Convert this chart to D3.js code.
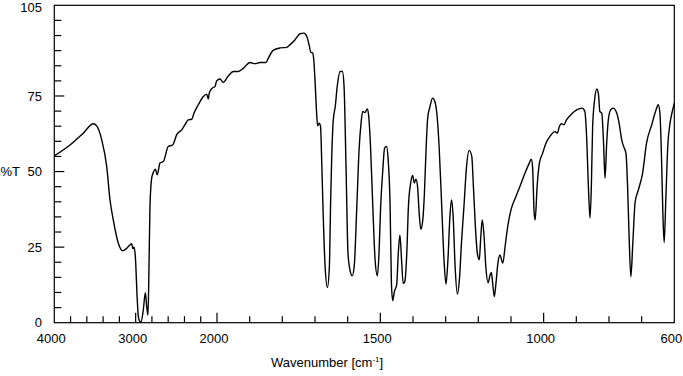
<!DOCTYPE html>
<html>
<head>
<meta charset="utf-8">
<script src="https://cdn.jsdelivr.net/npm/d3@7"></script>
<style>
  body { margin: 0; background: #fff; }
  text { font-family: Arial, "Liberation Sans", sans-serif; font-size: 13px; fill: #000; }
</style>
</head>
<body>
<div id="chart"></div>
<script>
// spectrum (wavenumber in cm-1, transmittance in %)
var wavenumbers = [4000, 3807, 3644, 3521, 3479, 3417, 3356, 3315, 3275, 3213, 3159, 3110, 3049, 3035, 3020, 3004,
  2980, 2967, 2950, 2934, 2906, 2881, 2864, 2848, 2836, 2824, 2803, 2783, 2758, 2734, 2701, 2660, 2599, 2545,
  2495, 2434, 2393, 2353, 2311, 2283, 2230, 2168, 2127, 2107, 2095, 2058, 2025, 2004, 1991, 1981, 1965, 1950,
  1935, 1919, 1899, 1884, 1868, 1850, 1843, 1828, 1807, 1787, 1777, 1761, 1746, 1734, 1725, 1717, 1713, 1707,
  1703, 1699, 1695, 1692, 1687, 1683, 1679, 1675, 1669, 1662, 1656, 1652, 1649, 1644, 1638, 1632, 1623, 1616,
  1611, 1605, 1599, 1593, 1586, 1580, 1572, 1565, 1559, 1554, 1547, 1540, 1536, 1530, 1523, 1516, 1509, 1504,
  1499, 1493, 1487, 1481, 1476, 1470, 1466, 1462, 1457, 1450, 1445, 1440, 1435, 1430, 1425, 1419, 1414, 1407,
  1401, 1396, 1391, 1386, 1381, 1376, 1370, 1365, 1360, 1355, 1348, 1340, 1333, 1327, 1320, 1312, 1305, 1299,
  1293, 1287, 1282, 1277, 1271, 1264, 1258, 1251, 1244, 1236, 1228, 1220, 1215, 1209, 1203, 1197, 1193, 1188,
  1183, 1177, 1170, 1164, 1160, 1156, 1151, 1146, 1140, 1134, 1125, 1118, 1110, 1100, 1085, 1073, 1057, 1044,
  1038, 1034, 1029, 1026, 1020, 1013, 1003, 993, 981, 965, 958, 952, 945, 938, 930, 914, 899, 882, 874, 868,
  863, 858, 854, 850, 844, 837, 832, 828, 822, 817, 812, 807, 802, 795, 787, 776, 769, 761, 753, 748, 743, 738,
  733, 727, 720, 710, 697, 685, 669, 656, 649, 644, 639, 635, 631, 626, 620, 613, 605, 600];

var transmittance = [55.2, 58.8, 62.7, 65.8, 65.1, 60.5, 51.7, 40.6, 34.0, 26.3, 23.8, 24.6, 26.1, 24.5, 25.0, 22.0,
  7.5, 2.0, 0.5, 0.3, 4.2, 9.9, 5.3, 2.5, 18.5, 38.4, 47.8, 49.7, 50.8, 48.9, 52.8, 53.3, 58.3, 58.8,
  62.2, 63.8, 65.5, 67.1, 67.3, 69.3, 72.1, 74.8, 75.6, 74.0, 76.0, 77.6, 78.1, 80.0, 80.6, 79.5, 81.7, 83.1,
  83.1, 84.2, 86.1, 85.7, 86.1, 86.1, 87.5, 90.1, 90.9, 91.1, 91.9, 93.6, 95.6, 95.8, 94.7, 91.4, 89.5, 89.2,
  85.9, 78.1, 69.3, 65.1, 66.0, 64.9, 51.7, 36.2, 18.5, 11.7, 18.5, 40.6, 53.9, 67.1, 71.5, 78.1, 83.1, 83.1,
  78.1, 51.7, 23.0, 17.5, 15.5, 18.5, 38.4, 57.2, 66.0, 69.9, 69.5, 70.7, 68.8, 58.3, 38.4, 20.8, 15.5, 23.0,
  38.4, 49.5, 57.7, 58.3, 53.9, 38.4, 13.0, 7.3, 10.3, 12.5, 23.0, 29.0, 20.8, 13.0, 13.6, 23.0, 38.4, 46.2,
  48.7, 46.2, 47.5, 45.0, 36.2, 30.9, 34.0, 42.8, 57.2, 67.7, 71.5, 74.3, 73.2, 69.3, 58.3, 38.4, 20.8, 12.8,
  20.8, 35.1, 40.6, 35.1, 18.5, 9.5, 14.1, 27.4, 38.4, 51.7, 57.0, 55.0, 45.0, 31.8, 23.0, 20.8, 27.4, 34.0,
  29.6, 18.5, 13.2, 15.8, 16.6, 13.0, 8.6, 13.0, 19.7, 22.4, 19.7, 25.2, 31.8, 37.3, 41.7, 45.0, 49.5, 52.8,
  54.1, 51.7, 36.2, 34.0, 45.0, 52.8, 56.1, 59.4, 61.6, 63.2, 62.7, 64.9, 65.8, 65.5, 67.1, 69.1, 70.4, 71.0, 69.9, 60.5,
  45.0, 34.6, 45.0, 64.9, 73.7, 77.3, 75.4, 69.9, 69.3, 60.5, 47.8, 59.4, 67.1, 70.4, 71.0, 69.3, 66.0, 60.5, 57.7, 56.1, 45.0, 27.4,
  15.2, 26.3, 39.8, 43.9, 49.5, 59.4, 65.5, 70.4, 72.1, 69.3, 53.9, 36.2, 26.5, 40.6, 58.3, 66.0, 70.4, 72.6];

// axis ticks
var xMajorTicks = [4000, 3000, 2000, 1500, 1000, 600];
var xMinorTicks = [3800, 3600, 3400, 3200, 2800, 2600, 2400, 2200, 1900, 1800, 1700, 1600,
  1400, 1300, 1200, 1100, 900, 800, 700];
var yLabelTicks = [0, 25, 50, 75, 105];
var yMajorTicks = [25, 50, 75];
var yMinorTicks = [5, 10, 15, 20, 30, 35, 40, 45, 55, 60, 65, 70, 80, 85, 90, 95, 100];

var data = wavenumbers.map(function (w, i) {
  return { w: w, t: transmittance[i] };
});

var width = 683, height = 376;
var plotLeft = 54.3, plotRight = 674.3, plotTop = 5.3, plotBottom = 322.7;

var svg = d3.select('#chart')
  .append('svg')
  .attr('width', width)
  .attr('height', height);

// the x axis is split: 4000-2000 compressed, 2000-600 expanded
var x = d3.scaleLinear()
  .domain([4000, 2000, 600])
  .range([plotLeft, 217, plotRight]);

var y = d3.scaleLinear()
  .domain([0, 105])
  .range([plotBottom, plotTop]);

// frame
svg.append('rect')
  .attr('x', plotLeft)
  .attr('y', plotTop)
  .attr('width', plotRight - plotLeft)
  .attr('height', plotBottom - plotTop)
  .attr('fill', 'none')
  .attr('stroke', '#000')
  .attr('stroke-width', 1.2);

// x ticks point up into the plot
svg.append('g').selectAll('line')
  .data(xMinorTicks)
  .enter()
  .append('line')
  .attr('x1', function (d) { return x(d); })
  .attr('x2', function (d) { return x(d); })
  .attr('y1', plotBottom)
  .attr('y2', plotBottom - 6.5)
  .attr('stroke', '#000')
  .attr('stroke-width', 1.2);

svg.append('g').selectAll('line')
  .data(xMajorTicks.slice(1, -1))
  .enter()
  .append('line')
  .attr('x1', function (d) { return x(d); })
  .attr('x2', function (d) { return x(d); })
  .attr('y1', plotBottom)
  .attr('y2', plotBottom - 10)
  .attr('stroke', '#000')
  .attr('stroke-width', 1.2);

svg.append('g').selectAll('text')
  .data(xMajorTicks)
  .enter()
  .append('text')
  .attr('x', function (d) { return x(d) - 3; })
  .attr('y', 343)
  .attr('text-anchor', 'middle')
  .text(function (d) { return d; });

// y ticks point right into the plot
svg.append('g').selectAll('line')
  .data(yMinorTicks)
  .enter()
  .append('line')
  .attr('x1', plotLeft)
  .attr('x2', plotLeft + 7)
  .attr('y1', function (d) { return y(d); })
  .attr('y2', function (d) { return y(d); })
  .attr('stroke', '#000')
  .attr('stroke-width', 1.2);

svg.append('g').selectAll('line')
  .data(yMajorTicks)
  .enter()
  .append('line')
  .attr('x1', plotLeft)
  .attr('x2', plotLeft + 10)
  .attr('y1', function (d) { return y(d); })
  .attr('y2', function (d) { return y(d); })
  .attr('stroke', '#000')
  .attr('stroke-width', 1.2);

svg.append('g').selectAll('text')
  .data(yLabelTicks)
  .enter()
  .append('text')
  .attr('x', 42)
  .attr('y', function (d) { return y(d); })
  .attr('dy', function (d) { return d === 105 ? '.5em' : '.36em'; })
  .attr('text-anchor', 'end')
  .text(function (d) { return d; });

// axis labels
svg.append('text')
  .attr('x', 0.5)
  .attr('y', y(50))
  .attr('dy', '.36em')
  .text('%T');

var xlab = svg.append('text')
  .attr('x', 271)
  .attr('y', 367);
xlab.append('tspan').text('Wavenumber [cm');
xlab.append('tspan')
  .attr('dy', -5)
  .style('font-size', '8px')
  .text('-1');
xlab.append('tspan')
  .attr('dy', 5)
  .text(']');

// spectrum
var line = d3.line()
  .x(function (d) { return x(d.w); })
  .y(function (d) { return y(d.t); })
  .curve(d3.curveMonotoneX);

svg.append('path')
  .datum(data)
  .attr('d', line)
  .attr('fill', 'none')
  .attr('stroke', '#000')
  .attr('stroke-width', 1.4)
  .attr('stroke-linejoin', 'round');
</script>
</body>
</html>
